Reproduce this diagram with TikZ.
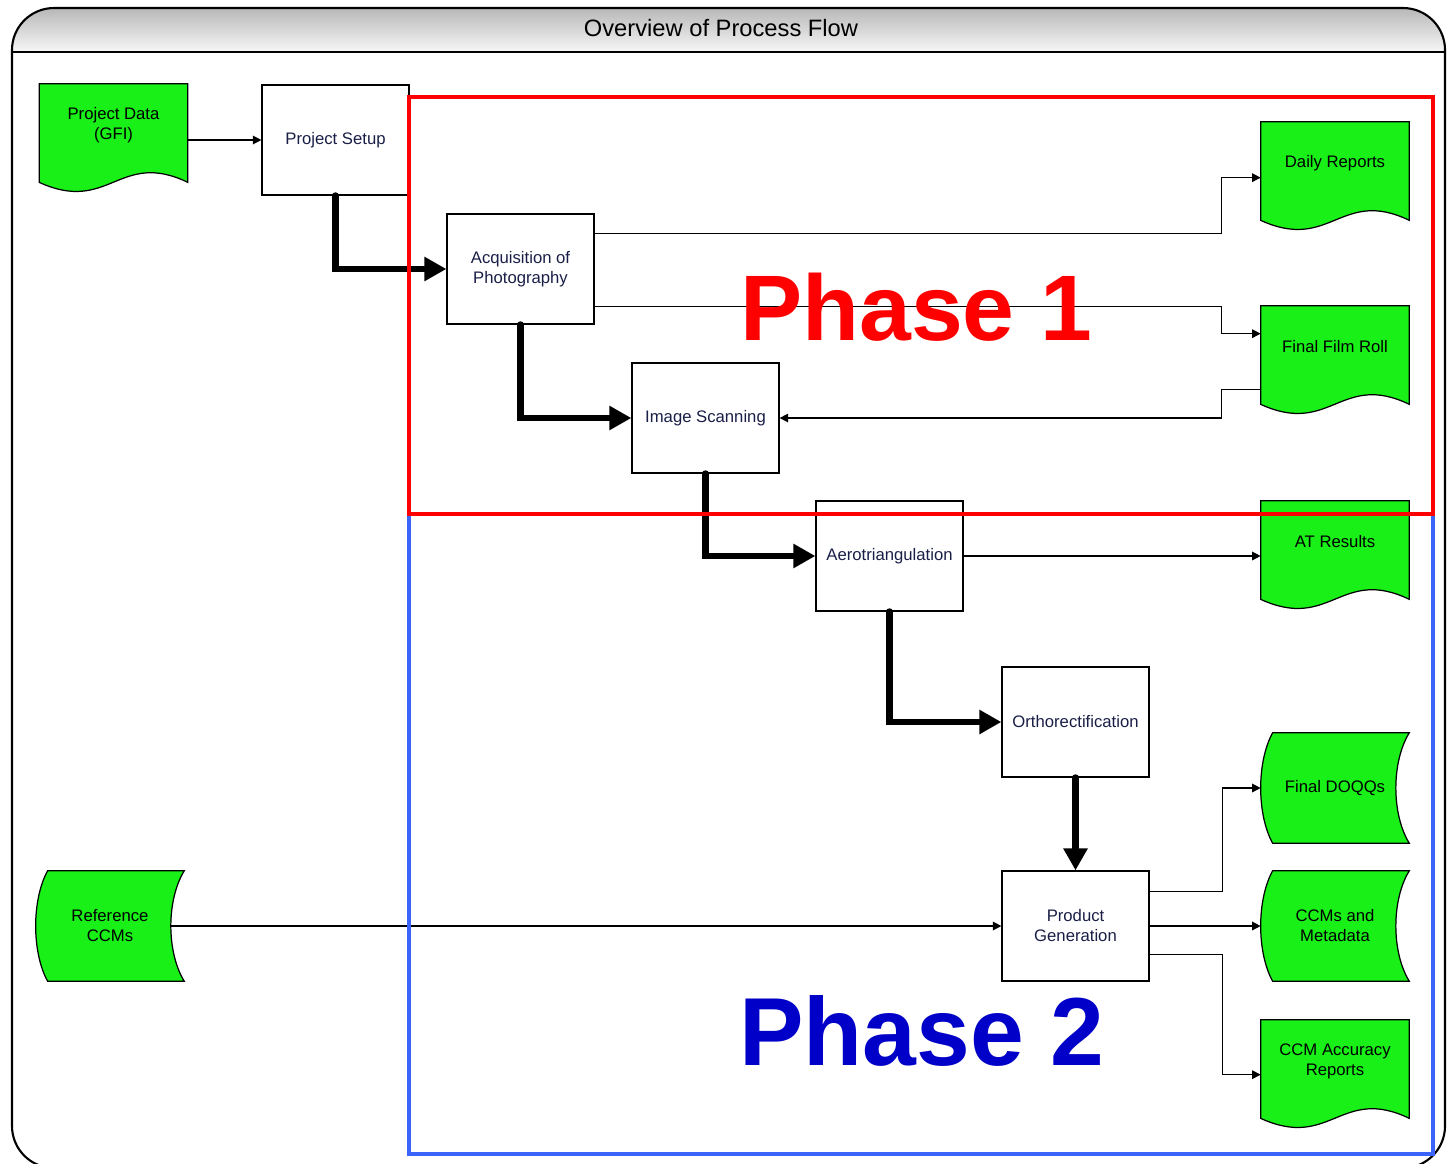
\documentclass[tikz,border=0pt]{standalone}
\usepackage{fontspec}
\setmainfont{Liberation Sans}
\usetikzlibrary{arrows.meta,calc,backgrounds}

\definecolor{docgreen}{RGB}{24,240,24}
\definecolor{phaseblue}{RGB}{0,0,200}
\definecolor{boxblue}{RGB}{60,100,250}
\definecolor{boxtext}{RGB}{25,30,70}

\newcommand{\docshape}[1]{%
  \draw[fill=docgreen,line width=0.7pt] (#1.north west) -- (#1.north east) -- ($(#1.south east)+(0,16)$)
    .. controls ($(#1.south west)+(80,-17)$) and ($(#1.south west)+(70,48)$) .. ($(#1.south west)+(0,16)$) -- cycle;}
\newcommand{\storeshape}[1]{%
  \draw[fill=docgreen,line width=0.7pt] ($(#1.north west)+(12,0)$) -- (#1.north east)
    .. controls ($(#1.north east)+(-18,29)$) and ($(#1.south east)+(-18,-29)$) .. (#1.south east)
    -- ($(#1.south west)+(12,0)$)
    .. controls ($(#1.south west)+(-4,-29)$) and ($(#1.north west)+(-4,29)$) .. cycle;}

\begin{document}
\begin{tikzpicture}[x=0.02cm,y=-0.02cm,>=Stealth,font=\fontsize{9.5}{11.4}\selectfont]
\tikzstyle{proc}=[draw,line width=0.7pt,minimum width=2.94cm,minimum height=2.2cm,text=boxtext,align=center,inner sep=0pt]
\tikzstyle{doc}=[minimum width=2.96cm,minimum height=1.64cm,align=center,inner sep=0pt]
\tikzstyle{store}=[minimum width=2.96cm,minimum height=2.2cm,align=center,inner sep=0pt]
\tikzstyle{flow}=[line width=0.8pt,-{Triangle[length=0.17cm,width=0.17cm]}]
\tikzstyle{bigflow}=[line width=3.8pt,line cap=round,-{Triangle[length=0.44cm,width=0.46cm]}]
\useasboundingbox (0,0) rectangle (1449,1163);

\node[font=\fontsize{13.5}{16}\selectfont] (title) at (721,28) {Overview of Process Flow};

\node[proc] (setup) at (335.5,140) {Project Setup};
\node[proc] (acq) at (520.5,269) {Acquisition of\\Photography};
\node[proc] (scan) at (705.5,418) {Image Scanning};
\node[proc] (aero) at (889.5,556) {Aerotriangulation};
\node[proc] (ortho) at (1075.5,722) {Orthorectification};
\node[proc] (prod) at (1075.5,926) {Product\\Generation};
\node[doc] (pdata) at (113.5,125) {Project Data\\(GFI)};
\node[doc] (daily) at (1335,163) {Daily Reports};
\node[doc] (film) at (1335,347) {Final Film Roll};
\node[doc] (atres) at (1335,542) {AT Results};
\node[doc] (ccmrep) at (1335,1061) {CCM Accuracy\\Reports};
\node[store] (refccm) at (110,926) {Reference\\CCMs};
\node[store] (doqq) at (1335,788) {Final DOQQs};
\node[store] (ccm) at (1335,926) {CCMs and\\Metadata};

\begin{pgfonlayer}{background}
\shade[top color=black!28,bottom color=black!3] (12,52) [rounded corners=0.84cm] -- (12,8) -- (1445,8) [sharp corners] -- (1445,52) -- cycle;
\foreach \d in {pdata,daily,film,atres,ccmrep} {\docshape{\d}}
\foreach \s in {refccm,doqq,ccm} {\storeshape{\s}}
\end{pgfonlayer}
\draw[line width=1.2pt,rounded corners=0.84cm] (12,8) rectangle (1445,1168);
\draw[line width=1.2pt] (12,52) -- (1445,52);

\draw[flow] (pdata.east |- setup.west) -- (setup.west);
\draw[bigflow] (setup.south) |- (acq.west);
\draw[bigflow] (acq.south) |- (scan.west);
\draw[bigflow] (scan.south) |- (aero.west);
\draw[bigflow] (aero.south) |- (ortho.west);
\draw[bigflow] (ortho.south) -- (prod.north);
\draw[flow] ($(acq.north east)+(0,20)$) -- ++(627,0) |- ($(daily.north west)+(0,56)$);
\draw[flow] ($(acq.south east)+(0,-18)$) -- ++(627,0) |- ($(film.north west)+(0,28)$);
\draw[flow] ($(film.north west)+(0,84)$) -- ++(-39,0) |- (scan.east);
\draw[flow] (aero.east) -- (aero.east -| atres.west);
\draw[flow] ($(refccm.east)+(-13,0)$) -- (prod.west);
\draw[flow] ($(prod.north east)+(0,21)$) -- ++(73,0) |- (doqq.west);
\draw[flow] (prod.east) -- (ccm.west);
\draw[flow] ($(prod.south east)+(0,-27)$) -- ++(73,0) |- ($(ccmrep.north west)+(0,55)$);

\draw[boxblue,line width=2pt] (409,514) rectangle (1433,1154);
\draw[red,line width=2pt] (409,97) rectangle (1433,514);
\node[anchor=west,inner sep=0pt,text=red,font=\fontsize{53}{60}\selectfont\bfseries] (ph1) at (740,307) {Phase 1};
\node[anchor=west,inner sep=0pt,text=phaseblue,font=\fontsize{55}{60}\selectfont\bfseries] (ph2) at (739,1031) {Phase 2};
\end{tikzpicture}
\end{document}
